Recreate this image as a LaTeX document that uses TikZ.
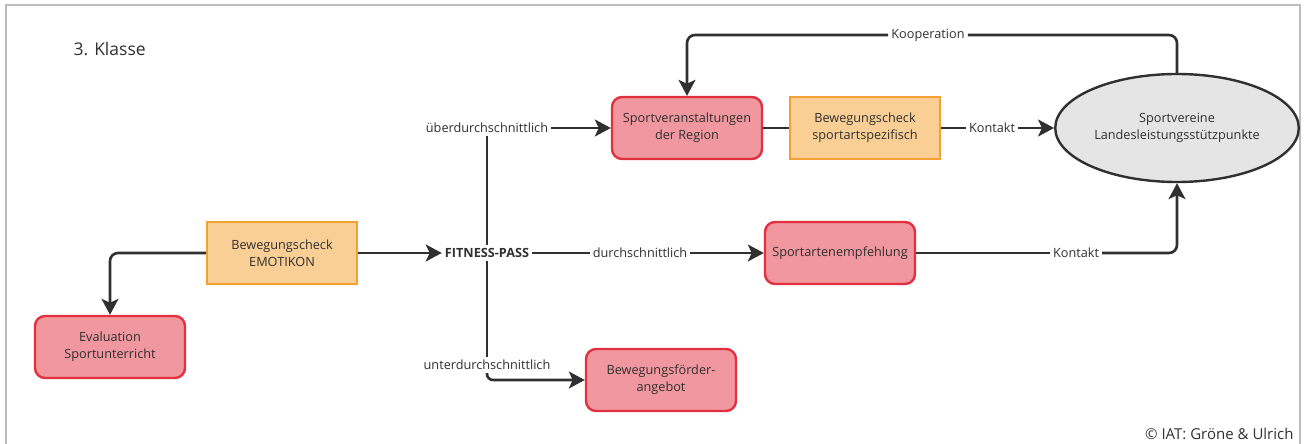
\documentclass[tikz,border=0pt]{standalone}
\usepackage{fontspec}
\setmainfont{Open Sans}
\usetikzlibrary{shapes,arrows.meta,positioning,calc}
\definecolor{boxred}{HTML}{F0979F}
\definecolor{linered}{HTML}{E2303F}
\definecolor{boxorange}{HTML}{F9CF95}
\definecolor{lineorange}{HTML}{F5A032}
\definecolor{ink}{HTML}{303030}
\definecolor{frame}{HTML}{BDBDBD}
\tikzset{
redblock/.style = {draw=linered, fill=boxred, rectangle, rounded corners=10pt, line width=2.4pt, align=center, minimum width=150pt, minimum height=62pt, text=ink},
checkblock/.style = {draw=lineorange, fill=boxorange, rectangle, line width=2pt, align=center, minimum width=150pt, minimum height=62pt, text=ink},
target/.style = {draw=ink, fill=black!10, ellipse, line width=2.4pt, align=center, minimum width=238pt, minimum height=108pt, text=ink},
lbl/.style = {fill=white, inner sep=3pt, text=ink},
link/.style = {draw=ink, line width=2.6pt},
}
\begin{document}
\begin{tikzpicture}[x=1pt, y=-1pt, font=\fontsize{12.7}{17}\selectfont, >={Stealth[length=16pt,width=17pt,inset=4pt]}]
    \useasboundingbox (0,0) rectangle (1308,444);
    \draw [frame, line width=1.5pt] (6,444) -- (6,5) -- (1300,5) -- (1300,444);

    \node [anchor=west, text=ink, font=\fontsize{17.5}{20}\selectfont] (klasse) at (70,49) {3. Klasse};

    \node [checkblock] (emo) at (282,253) {Bewegungscheck\\EMOTIKON};
    \node [redblock] (eval) at (110,347) {Evaluation\\Sportunterricht};
    \node [lbl, font=\fontsize{12.7}{17}\selectfont\bfseries] (fp) at (487,253) {FITNESS-PASS};

    \node [lbl] (ueber) at (487,128) {überdurchschnittlich};
    \node [lbl] (durch) at (640,253) {durchschnittlich};
    \node [lbl] (unter) at (487,365) {unterdurchschnittlich};

    \node [redblock] (sportver) at (687,128) {Sportveranstaltungen\\der Region};
    \node [checkblock, right of = sportver, node distance = 178pt] (check2) {Bewegungscheck\\sportartspezifisch};
    \node [redblock] (sempf) at (840,253) {Sportartenempfehlung};
    \node [redblock] (foerder) at (661,380) {Bewegungsförder-\\angebot};

    \node [target] (verein) at (1177,128) {Sportvereine\\Landesleistungsstützpunkte};

    \node [lbl] (kontakt1) at (992,128) {Kontakt};
    \node [lbl] (kontakt2) at (1076,253) {Kontakt};
    \node [lbl] (koop) at (928,35) {Kooperation};

    \node [anchor=east, text=ink, font=\fontsize{15}{18}\selectfont] (copy) at (1297,434) {© IAT: Gröne \& Ulrich};

    \draw [link, ->, rounded corners=8pt] (emo.west) -| (eval.north);
    \draw [link, ->] (emo) -- (fp);

    \draw [link] (fp) -- (ueber);
    \draw [link, ->] (ueber) -- (sportver);
    \draw [link] (fp) -- (durch);
    \draw [link, ->] (durch) -- (sempf);
    \draw [link] (fp) -- (unter);
    \draw [link, ->, rounded corners=6pt] (unter.south) |- (foerder.west);

    \draw [link] (sportver) -- (check2);
    \draw [link] (check2) -- (kontakt1);
    \draw [link, ->] (kontakt1) -- (verein);

    \draw [link] (sempf) -- (kontakt2);
    \draw [link, ->, rounded corners=8pt] (kontakt2.east) -| (verein.south);

    \draw [link, rounded corners=8pt] (verein.north) |- (koop.east);
    \draw [link, ->, rounded corners=8pt] (koop.west) -| (sportver.north);
\end{tikzpicture}
\end{document}
